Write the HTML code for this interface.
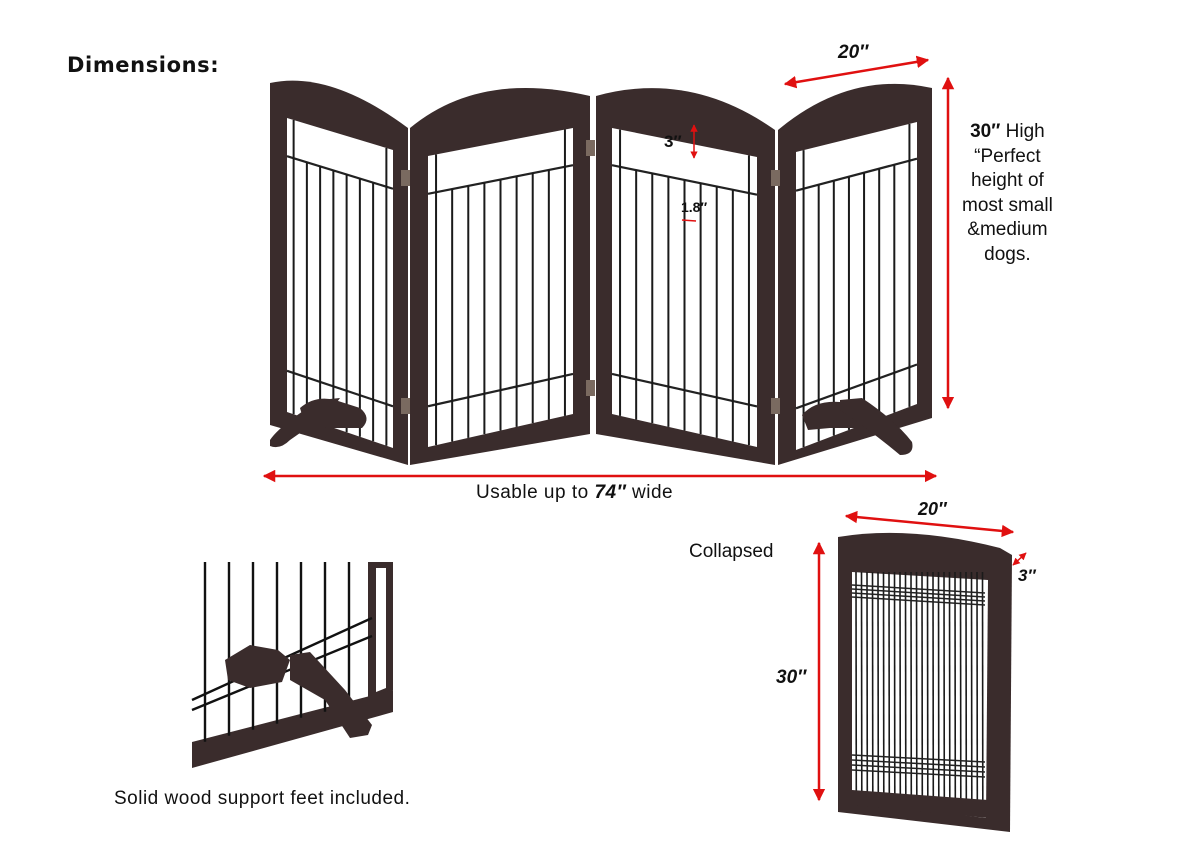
<!DOCTYPE html>
<html><head><meta charset="utf-8">
<style>
html,body{margin:0;padding:0;background:#fff;}
body{width:1200px;height:864px;overflow:hidden;position:relative;font-family:"Liberation Sans",sans-serif;}
.t{position:absolute;color:#111;white-space:nowrap;}
.b{font-weight:bold;font-family:"Liberation Sans",sans-serif;}
</style></head><body>
<svg id="s" width="1200" height="864" style="position:absolute;left:0;top:0">
<defs>
<marker id="ah" viewBox="0 0 10 10" refX="9" refY="5" markerWidth="5" markerHeight="5" orient="auto-start-reverse"><path d="M0,0L10,5L0,10z" fill="#e01010"/></marker>
</defs>
<g id="g"></g>
</svg>
<div class="t" style="left:67px;top:53px;font-size:21px;letter-spacing:0.6px;font-weight:900;font-family:'DejaVu Sans',sans-serif">Dimensions:</div>
<div class="t b" style="left:838px;top:42px;font-size:19px;font-style:italic">20″</div>
<div class="t" style="left:962px;top:120px;font-size:19px;line-height:24.5px;text-align:center"><b>30″</b> High<br>“Perfect<br>height of<br>most small<br>&amp;medium<br>dogs.</div>
<div class="t b" style="left:664px;top:132px;font-size:17px">3″</div>
<div class="t b" style="left:681px;top:199px;font-size:14px">1.8″</div>
<div class="t" style="left:476px;top:482px;font-size:19px;letter-spacing:0.5px">Usable up to <b><i>74″</i></b> wide</div>
<div class="t b" style="left:918px;top:499px;font-size:18px;font-style:italic">20″</div>
<div class="t" style="left:689px;top:541px;font-size:19px">Collapsed</div>
<div class="t b" style="left:1018px;top:566px;font-size:17px;font-style:italic">3″</div>
<div class="t b" style="left:776px;top:667px;font-size:19px;font-style:italic">30″</div>
<div class="t" style="left:114px;top:788px;font-size:19px;letter-spacing:0.5px">Solid wood support feet included.</div>
<script>
const g=document.getElementById('g');let h='';
const B='#3a2c2c';
function L(a,b,t){return [a[0]+(b[0]-a[0])*t,a[1]+(b[1]-a[1])*t];}
function poly(p,f){return '<polygon points="'+p.map(q=>q.join(',')).join(' ')+'" fill="'+f+'"/>';}
function line(a,b,c,w){return '<line x1="'+a[0]+'" y1="'+a[1]+'" x2="'+b[0]+'" y2="'+b[1]+'" stroke="'+c+'" stroke-width="'+w+'"/>';}
function pnl(TL,TR,BR,BL,pk,iTL,iTR,iBR,iBL,n){
 h+='<path d="M'+BL+' L'+TL+' Q'+pk[0]+','+pk[1]+' '+TR+' L'+BR+' Z" fill="'+B+'"/>';
 h+=poly([iTL,iTR,iBR,iBL],'#fff');
 const r1=0.13,r2=0.86;
 const a=L(iTL,iBL,r1),b=L(iTR,iBR,r1),c=L(iTL,iBL,r2),d=L(iTR,iBR,r2);
 h+=line(a,b,'#222',2.2);h+=line(c,d,'#222',2.2);
 for(let k=0;k<=n;k++){const t=(k+0.5)/(n+1);
  const top=(k==0||k==n)?L(iTL,iTR,t):L(a,b,t);const bot=L(iBL,iBR,t);
  h+=line(top,bot,'#1a1a1a',2);}
}
pnl([270,83],[408,128],[408,465],[270,425],[330,70],[287,118],[393,150],[393,448],[287,412],7);
pnl([410,128],[590,96],[590,434],[410,465],[480,70],[428,156],[573,128],[573,414],[428,447],8);
pnl([596,96],[775,130],[775,465],[596,434],[690,70],[612,128],[757,157],[757,447],[612,414],8);
pnl([778,130],[932,88],[932,418],[778,465],[850,70],[796,152],[917,122],[917,404],[796,450],7);
h+='<path d="M300,408 Q315,395 335,400 L360,408 Q372,418 362,428 L330,428 L305,425Z" fill="'+B+'"/>';
h+='<path d="M270,440 Q280,425 320,400 L340,398 L330,412 L290,440 Q280,450 270,446Z" fill="'+B+'"/>';
h+='<path d="M802,415 Q815,400 840,402 L870,410 Q880,420 868,428 L830,428 L808,430Z" fill="'+B+'"/>';
h+='<path d="M840,400 L862,398 Q895,420 912,442 Q915,455 900,455 Q870,430 840,410Z" fill="'+B+'"/>';
[[405,170],[405,398],[590,140],[590,380],[775,170],[775,398]].forEach(p=>h+='<rect x="'+(p[0]-4)+'" y="'+p[1]+'" width="9" height="16" fill="#7a6a60"/>');
h+=line([785,84],[928,60],'#e01010',2.5).replace('/>',' marker-start="url(#ah)" marker-end="url(#ah)"/>');
h+=line([948,78],[948,408],'#e01010',2.5).replace('/>',' marker-start="url(#ah)" marker-end="url(#ah)"/>');
h+=line([264,476],[936,476],'#e01010',2.5).replace('/>',' marker-start="url(#ah)" marker-end="url(#ah)"/>');
h+=line([694,125],[694,158],'#e01010',1.5).replace('/>',' marker-start="url(#ah)" marker-end="url(#ah)"/>');
h+=line([682,220],[696,221],'#e01010',1.5);
h+=line([846,516],[1013,532],'#e01010',2.5).replace('/>',' marker-start="url(#ah)" marker-end="url(#ah)"/>');
h+=line([1013,565],[1026,553],'#e01010',1.5).replace('/>',' marker-start="url(#ah)" marker-end="url(#ah)"/>');
h+=line([819,543],[819,800],'#e01010',2.5).replace('/>',' marker-start="url(#ah)" marker-end="url(#ah)"/>');
h+='<path d="M838,537 Q910,525 1000,548 L1012,555 L1010,832 L838,812 Z" fill="'+B+'"/>';
h+=poly([[852,572],[988,580],[986,818],[852,802]],'#fff');
for(let x=856;x<985;x+=5.5){h+=line([x,572],[x+0.3,800],'#1a1a1a',1.6);}
for(let y=0;y<4;y++){h+=line([852,585+y*4],[985,593+y*4],'#222',1.5);h+=line([852,755+y*5],[985,762+y*5],'#222',1.5);}
h+=poly([[852,790],[988,800],[988,818],[852,805]],B);
h+=poly([[368,562],[393,562],[393,690],[368,700]],B);
h+=poly([[376,568],[386,568],[386,688],[376,692]],'#fff');
h+=poly([[393,690],[393,712],[192,768],[192,742]],B);
for(let i=0;i<7;i++){const x=205+i*24;h+=line([x,562],[x,745-(x-192)*0.25],'#111',2.4);}
h+=line([192,700],[372,618],'#111',2.4);
h+=line([192,710],[372,636],'#111',2.4);
h+='<path d="M225,660 L250,645 L278,650 L290,660 L282,682 L250,688 L228,680Z" fill="'+B+'"/>';
h+='<path d="M290,655 L310,652 L345,690 L372,725 L368,735 L350,738 L325,700 L290,680Z" fill="'+B+'"/>';
g.innerHTML=h;
</script>
</body></html>
